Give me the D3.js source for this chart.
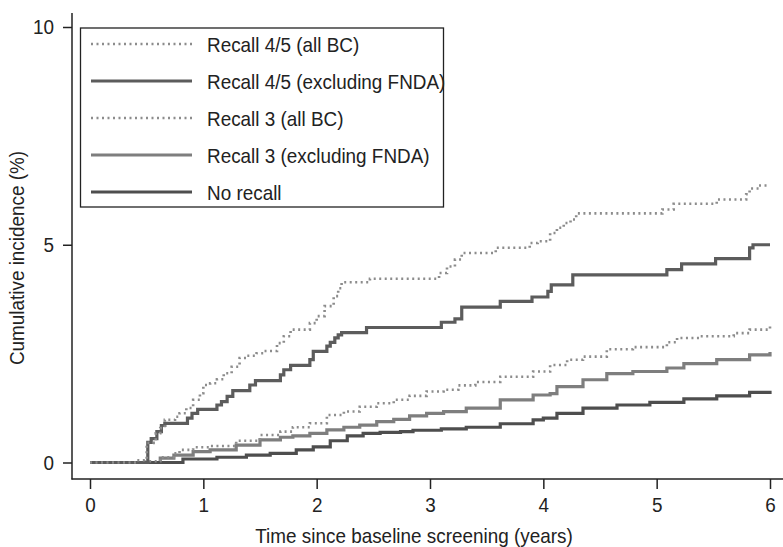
<!DOCTYPE html>
<html>
<head>
<meta charset="utf-8">
<script src="https://cdn.jsdelivr.net/npm/d3@7"></script>
<style>
  body { margin: 0; background: #fff; }
  svg { display: block; font-family: "Liberation Sans", Arial, Helvetica, sans-serif; }
</style>
</head>
<body>
<div class="incidence-plot"></div>
<script>
// cumulative incidence (%), [years, percent], step after
const recall45All = [[0,0],[0.41,0.05],[0.5,0.45],[0.58,0.67],[0.62,0.79],[0.66,0.98],[0.75,1.05],[0.79,1.13],
  [0.85,1.25],[0.91,1.44],[0.97,1.59],[1.0,1.78],[1.06,1.82],[1.12,1.91],[1.18,2.05],[1.25,2.2],[1.32,2.4],
  [1.38,2.45],[1.47,2.51],[1.53,2.56],[1.65,2.74],[1.71,2.9],[1.77,3.05],[1.94,3.2],[2.0,3.36],[2.07,3.59],
  [2.15,3.82],[2.19,4.0],[2.22,4.14],[2.47,4.22],[3.08,4.35],[3.15,4.5],[3.22,4.66],[3.28,4.81],[3.58,4.93],
  [3.88,5.04],[3.95,5.08],[4.06,5.27],[4.12,5.39],[4.18,5.5],[4.24,5.58],[4.29,5.72],[5.05,5.81],[5.15,5.94],
  [5.53,6.04],[5.79,6.16],[5.82,6.29],[5.9,6.36],[6.0,6.36]];

const recall45Excl = [[0,0],[0.51,0.46],[0.54,0.55],[0.59,0.71],[0.63,0.85],[0.66,0.9],[0.86,1.02],[0.9,1.13],
  [0.95,1.22],[1.12,1.32],[1.16,1.4],[1.21,1.52],[1.26,1.65],[1.41,1.78],[1.46,1.88],[1.68,2.01],[1.71,2.13],
  [1.77,2.23],[1.94,2.36],[1.97,2.55],[2.09,2.67],[2.12,2.76],[2.16,2.86],[2.19,2.93],[2.22,2.98],[2.44,3.1],
  [3.1,3.22],[3.22,3.3],[3.28,3.57],[3.62,3.7],[3.9,3.8],[4.04,3.93],[4.07,4.08],[4.26,4.31],[5.09,4.43],
  [5.22,4.56],[5.52,4.68],[5.82,4.93],[5.85,5.0],[6.0,5.0]];

const recall3All = [[0,0],[0.45,0.03],[0.62,0.12],[0.74,0.21],[0.79,0.29],[0.91,0.35],[1.06,0.38],[1.29,0.5],
  [1.5,0.63],[1.68,0.71],[1.79,0.81],[1.94,0.9],[2.09,1.09],[2.24,1.17],[2.38,1.28],[2.53,1.36],[2.68,1.44],
  [2.82,1.53],[2.97,1.63],[3.12,1.67],[3.25,1.77],[3.4,1.85],[3.62,1.97],[3.91,2.09],[4.06,2.24],[4.21,2.36],
  [4.35,2.43],[4.56,2.6],[4.79,2.65],[5.09,2.76],[5.18,2.86],[5.38,2.9],[5.68,2.97],[5.82,3.05],[6.0,3.14]];

const recall3Excl = [[0,0],[0.62,0.1],[0.74,0.17],[0.91,0.25],[1.06,0.29],[1.29,0.4],[1.5,0.52],[1.68,0.58],
  [1.79,0.61],[1.94,0.67],[2.09,0.75],[2.24,0.81],[2.38,0.86],[2.53,0.94],[2.68,0.99],[2.82,1.07],[2.97,1.13],
  [3.12,1.17],[3.32,1.25],[3.62,1.44],[3.91,1.55],[4.06,1.58],[4.12,1.74],[4.35,1.9],[4.56,2.04],[4.79,2.09],
  [5.09,2.17],[5.24,2.27],[5.53,2.36],[5.82,2.47],[6.0,2.54]];

const noRecall = [[0,0],[0.82,0.08],[1.12,0.12],[1.38,0.17],[1.59,0.21],[1.82,0.29],[1.97,0.36],[2.12,0.5],
  [2.27,0.61],[2.41,0.67],[2.56,0.69],[2.74,0.71],[2.85,0.74],[3.1,0.77],[3.32,0.81],[3.62,0.89],[3.91,0.98],
  [4.0,1.02],[4.12,1.13],[4.35,1.25],[4.65,1.32],[4.94,1.38],[5.24,1.46],[5.53,1.53],[5.82,1.61],[6.0,1.65]];

const seriesNames = ['Recall 4/5 (all BC)', 'Recall 4/5 (excluding FNDA)', 'Recall 3 (all BC)', 'Recall 3 (excluding FNDA)', 'No recall'];
const seriesData = [recall45All, recall45Excl, recall3All, recall3Excl, noRecall];
const xTicks = [0, 1, 2, 3, 4, 5, 6];
const yTicks = [0, 5, 10];

// line looks, same order as seriesNames
const looks = [
  {color: '#8c8c8c', width: 2.6, dash: '2,3.5'},
  {color: '#5c5c5c', width: 3.2, dash: null},
  {color: '#8c8c8c', width: 2.6, dash: '2,3.5'},
  {color: '#7e7e7e', width: 3.2, dash: null},
  {color: '#4e4e4e', width: 3.2, dash: null}
];

// the figure's type is a bit narrow and tall
const fontSize = 21;
const squeeze = 'scale(0.9,1)';

const width = 783;
const height = 547;

const svg = d3.select('.incidence-plot')
  .append('svg')
  .attr('width', width)
  .attr('height', height);

const x = d3.scaleLinear().domain([0, 6]).range([90, 770]);
const y = d3.scaleLinear().domain([0, 10]).range([462.5, 27]);

// axis frame lines
svg.append('line')
  .attr('x1', 72).attr('x2', 72).attr('y1', 13).attr('y2', 479.5)
  .attr('stroke', '#222').attr('stroke-width', 1.5);
svg.append('line')
  .attr('x1', 71.5).attr('x2', 783).attr('y1', 479).attr('y2', 479)
  .attr('stroke', '#222').attr('stroke-width', 1.5);

const xAxis = svg.append('g')
  .attr('transform', 'translate(0,479)')
  .call(d3.axisBottom(x).tickValues(xTicks).tickFormat(d3.format('d'))
    .tickSize(10).tickSizeOuter(0).tickPadding(8));
xAxis.select('.domain').remove();

const yAxis = svg.append('g')
  .attr('transform', 'translate(72,0)')
  .call(d3.axisLeft(y).tickValues(yTicks).tickFormat(d3.format('d'))
    .tickSize(9).tickSizeOuter(0).tickPadding(11));
yAxis.select('.domain').remove();

svg.selectAll('.tick line').attr('stroke', '#222').attr('stroke-width', 1.5);
svg.selectAll('.tick text')
  .attr('font-size', fontSize)
  .attr('font-family', '"Liberation Sans", Arial, sans-serif')
  .attr('fill', '#222')
  .attr('transform', squeeze);

// axis titles
svg.append('text')
  .attr('transform', 'translate(414,543) ' + squeeze)
  .attr('text-anchor', 'middle')
  .attr('font-size', fontSize)
  .attr('fill', '#222')
  .text('Time since baseline screening (years)');

svg.append('text')
  .attr('transform', 'translate(24,258) rotate(-90) ' + squeeze)
  .attr('text-anchor', 'middle')
  .attr('font-size', fontSize)
  .attr('fill', '#222')
  .text('Cumulative incidence (%)');

// curves
const line = d3.line()
  .x(d => x(d[0]))
  .y(d => y(d[1]))
  .curve(d3.curveStepAfter);

const drawOrder = [3, 4, 2, 1, 0];
svg.selectAll('.curve')
  .data(drawOrder)
  .enter()
  .append('path')
  .attr('class', 'curve')
  .attr('d', i => line(seriesData[i]))
  .attr('fill', 'none')
  .attr('stroke', i => looks[i].color)
  .attr('stroke-width', i => looks[i].width)
  .attr('stroke-dasharray', i => looks[i].dash);

// legend
svg.append('rect')
  .attr('x', 80.5)
  .attr('y', 28)
  .attr('width', 363)
  .attr('height', 179)
  .attr('fill', '#fff')
  .attr('stroke', '#222')
  .attr('stroke-width', 1.3);

const legend = svg.selectAll('.legend-item')
  .data(seriesNames)
  .enter()
  .append('g')
  .attr('class', 'legend-item')
  .attr('transform', (d, i) => 'translate(0,' + (44 + i * 37) + ')');

legend.append('line')
  .attr('x1', 91).attr('x2', 192)
  .attr('y1', 0).attr('y2', 0)
  .attr('stroke', (d, i) => looks[i].color)
  .attr('stroke-width', (d, i) => looks[i].width)
  .attr('stroke-dasharray', (d, i) => looks[i].dash);

legend.append('text')
  .attr('transform', 'translate(207,0) ' + squeeze)
  .attr('dy', '0.36em')
  .attr('font-size', fontSize)
  .attr('fill', '#222')
  .text(d => d);
</script>
</body>
</html>
